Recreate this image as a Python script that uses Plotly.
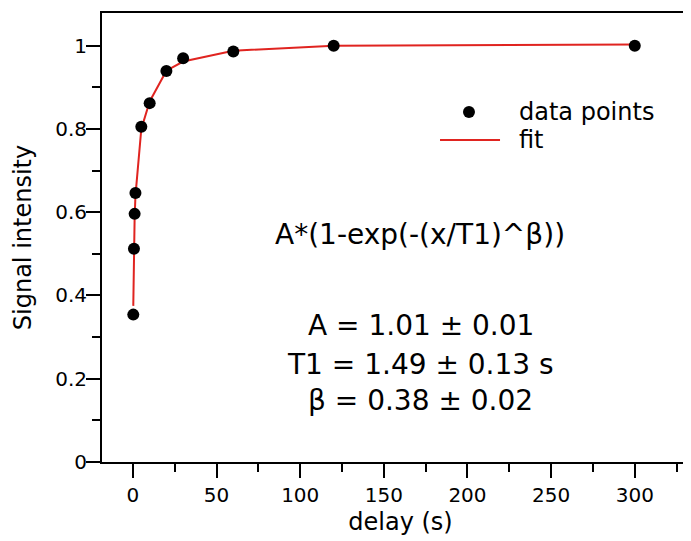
import plotly.graph_objects as go

# Data
delay_s = [0.2, 0.6, 1.0, 1.5, 5, 10, 20, 30, 60, 120, 300]
signal = [0.354, 0.512, 0.596, 0.646, 0.805, 0.862, 0.939, 0.970, 0.986, 1.000, 1.000]
fit_values = [0.375, 0.512, 0.585, 0.640, 0.800, 0.866, 0.940, 0.962, 0.988, 1.000, 1.003]

x_ticks = [0, 50, 100, 150, 200, 250, 300]
y_ticks = [0, 0.2, 0.4, 0.6, 0.8, 1]
y_tick_text = ["0", "0.2", "0.4", "0.6", "0.8", "1"]

formula_text = "A*(1-exp(-(x/T1)^β))"
param_lines = ["A = 1.01 ± 0.01", "T1 = 1.49 ± 0.13 s", "β = 0.38 ± 0.02"]
legend_names = ["data points", "fit"]

FONT = "DejaVu Sans"
RED = "#e02420"

fig = go.Figure()
fig.add_trace(go.Scatter(
    x=delay_s, y=fit_values, mode="lines", name=legend_names[1],
    line=dict(color=RED, width=2),
))
fig.add_trace(go.Scatter(
    x=delay_s, y=signal, mode="markers", name=legend_names[0],
    marker=dict(color="black", size=12),
))

fig.update_layout(
    width=691, height=541,
    margin=dict(l=94, r=0, t=5, b=87, autoexpand=False),
    paper_bgcolor="white", plot_bgcolor="white",
    font=dict(family=FONT, size=20, color="black"),
    showlegend=False,
)

fig.update_xaxes(
    range=[-18.5, 338.4], tickvals=x_ticks, ticktext=[str(v) for v in x_ticks],
    showgrid=False, zeroline=False, automargin=False,
    showline=True, linecolor="black", linewidth=2, mirror=True,
    ticks="outside", ticklen=14, tickwidth=2, tickcolor="black",
    minor=dict(ticks="outside", ticklen=8, tickwidth=2, tickcolor="black", dtick=25, tick0=0, showgrid=False),
    tickfont=dict(family=FONT, size=20),
    title=dict(text="delay (s)", font=dict(family=FONT, size=24), standoff=7),
)
fig.update_yaxes(
    range=[0, 1.0785], tickvals=y_ticks, ticktext=y_tick_text,
    showgrid=False, zeroline=False, automargin=False,
    showline=True, linecolor="black", linewidth=2, mirror=False,
    ticks="outside", ticklen=14, tickwidth=2, tickcolor="black",
    minor=dict(ticks="outside", ticklen=8, tickwidth=2, tickcolor="black", dtick=0.1, tick0=0, showgrid=False),
    tickfont=dict(family=FONT, size=20), ticklabelstandoff=-5,
    title=dict(text="Signal intensity", font=dict(family=FONT, size=24), standoff=17),
)

# Legend drawn as decorations in paper space
fig.add_shape(type="circle", xref="paper", yref="paper",
              xsizemode="pixel", ysizemode="pixel", xanchor=0.6147, yanchor=0.7795,
              x0=-6, x1=6, y0=-6, y1=6, fillcolor="black", line=dict(color="black", width=0))
fig.add_shape(type="line", xref="paper", yref="paper",
              x0=0.5662, x1=0.6667, y0=0.7171, y1=0.7171, line=dict(color=RED, width=2))
for name, yy in zip(legend_names, [0.7795, 0.7171]):
    fig.add_annotation(x=0.6951, y=yy, xref="paper", yref="paper", text=name,
                       showarrow=False, xanchor="left", yanchor="middle",
                       font=dict(family=FONT, size=24, color="black"))

fig.add_annotation(
    x=0.533, y=0.5056, xref="paper", yref="paper", text=formula_text,
    showarrow=False, xanchor="center", yanchor="middle",
    font=dict(family=FONT, size=28, color="black"),
)
for line, yy in zip(param_lines, [0.303, 0.218, 0.138]):
    fig.add_annotation(
        x=0.534, y=yy, xref="paper", yref="paper", text=line,
        showarrow=False, xanchor="center", yanchor="middle",
        font=dict(family=FONT, size=28, color="black"),
    )

fig.write_html("out.html")
